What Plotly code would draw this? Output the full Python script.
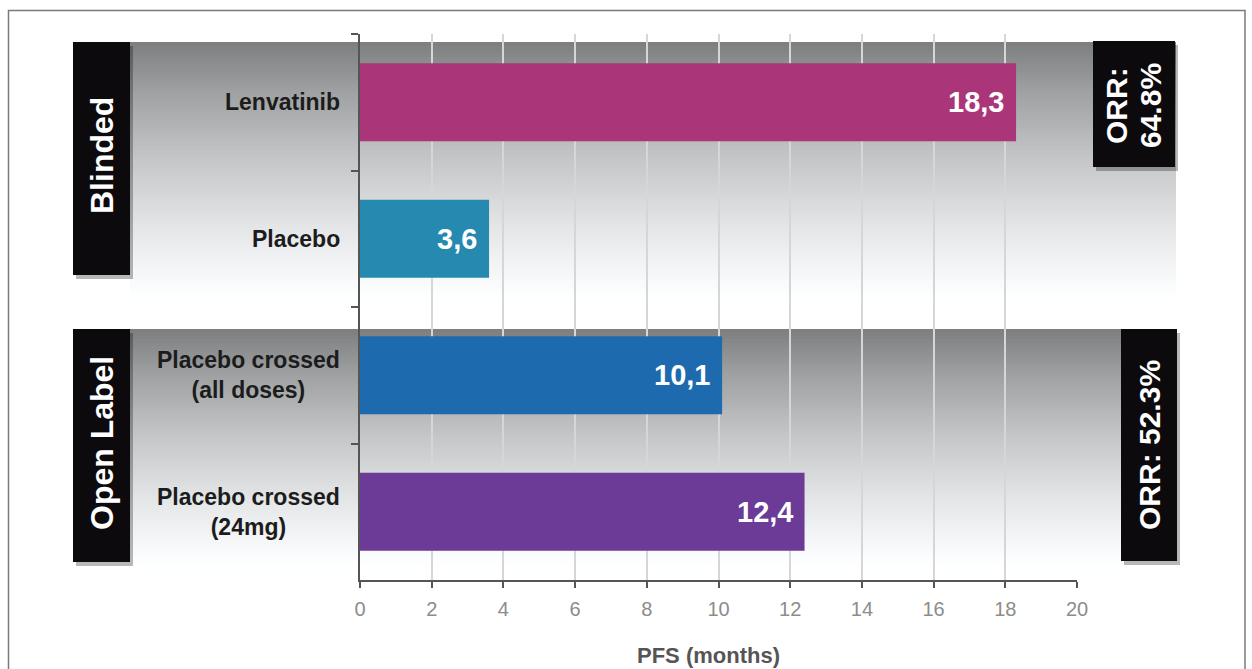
import plotly.graph_objects as go

# ---- data -------------------------------------------------------------
categories = [
    "Lenvatinib",
    "Placebo",
    "Placebo crossed (all doses)",
    "Placebo crossed (24mg)",
]
category_labels = [
    "Lenvatinib",
    "Placebo",
    "Placebo crossed<br>(all doses)",
    "Placebo crossed<br>(24mg)",
]
pfs_months = [18.3, 3.6, 10.1, 12.4]
bar_colors = ["#AA3679", "#2589B0", "#1E6AAF", "#6B3B97"]

group_names = ["Blinded", "Open Label"]
orr_blinded = ["ORR:", "64.8%"]
orr_open = "ORR: 52.3%"

x_ticks = list(range(0, 21, 2))
x_title = "PFS (months)"

# ---- page geometry (pixels) -------------------------------------------
W, H = 1252, 669
L, R, T, B = 360, 175, 34, 89
PW, PH = W - L - R, H - T - B


def px(xp):
    return (xp - L) / PW


def py(yp):
    return (H - B - yp) / PH


FONT = "Arial, Liberation Sans, Helvetica, sans-serif"

fig = go.Figure()

fig.add_trace(go.Bar(
    x=pfs_months,
    y=categories,
    orientation="h",
    width=0.57,
    marker=dict(color=bar_colors, line=dict(width=0)),
    hoverinfo="x+y",
))

shapes = []
annotations = []


def grey_at(t):
    stops = [(0.0, 124), (0.2, 160), (0.45, 196), (0.7, 226), (0.88, 244), (1.0, 255)]
    for (t0, c0), (t1, c1) in zip(stops, stops[1:]):
        if t <= t1:
            f = (t - t0) / (t1 - t0)
            return c0 + (c1 - c0) * f
    return 255


def gradient_band(x0, x1, y0, y1, n=70):
    h = (y1 - y0) / n
    for i in range(n):
        g = grey_at((i + 0.5) / n)
        r = int(round(g))
        gg = int(round(min(255, g + 2)))
        b = int(round(min(255, g + 3)))
        shapes.append(dict(
            type="rect", xref="paper", yref="paper", layer="below",
            x0=px(x0), x1=px(x1),
            y0=py(y0 + i * h), y1=py(min(y1, y0 + (i + 1) * h + 1)),
            fillcolor=f"rgb({r},{gg},{b})", line=dict(width=0),
        ))


def black_box(x0, x1, y0, y1):
    shapes.append(dict(
        type="rect", xref="paper", yref="paper", layer="above",
        x0=px(x0 + 3), x1=px(x1 + 3), y0=py(y0 + 4), y1=py(y1 + 4),
        fillcolor="rgba(0,0,0,0.28)", line=dict(width=0),
    ))
    shapes.append(dict(
        type="rect", xref="paper", yref="paper", layer="above",
        x0=px(x0), x1=px(x1), y0=py(y0), y1=py(y1),
        fillcolor="#0c0a0d", line=dict(width=0),
    ))


def rotated_label(text, xc, yc, size):
    annotations.append(dict(
        xref="paper", yref="paper", x=px(xc), y=py(yc),
        text=f"<b>{text}</b>", showarrow=False, textangle=-90,
        xanchor="center", yanchor="middle",
        font=dict(family=FONT, size=size, color="white"),
    ))


# shaded section bands
gradient_band(130, 1176, 42, 302)
gradient_band(130, 1177, 329, 568)

# section labels on the left
black_box(73, 130, 42, 275)
black_box(73, 130, 329, 562)
# response-rate boxes on the right
black_box(1093, 1175, 41, 167)
black_box(1121, 1177, 329, 561)

for name, yc in zip(group_names, [156, 443]):
    rotated_label(name, 102, yc, 32)

rotated_label(orr_blinded[0], 1117, 106, 30)
rotated_label(orr_blinded[1], 1151, 106, 30)
rotated_label(orr_open, 1149, 445, 30)

# category labels, centred lines, right edge near the axis
for cat, lab in zip(categories, category_labels):
    annotations.append(dict(
        xref="paper", yref="y", x=px(342), y=cat,
        text=f"<b>{lab}</b>", showarrow=False, align="center",
        xanchor="right", yanchor="middle",
        font=dict(family=FONT, size=23, color="#1c1c1c"),
    ))

# value labels inside the bar ends
for cat, v in zip(categories, pfs_months):
    annotations.append(dict(
        xref="x", yref="y", x=v, y=cat, xshift=-10,
        text=f"<b>{v:.1f}</b>".replace(".", ","), showarrow=False,
        xanchor="right", yanchor="middle",
        font=dict(family=FONT, size=29, color="white"),
    ))

# axis title
annotations.append(dict(
    xref="paper", yref="paper", x=px(708), y=py(655),
    text=f"<b>{x_title}</b>", showarrow=False,
    xanchor="center", yanchor="middle",
    font=dict(family=FONT, size=22, color="#555555"),
))

# outer frame
shapes.append(dict(
    type="rect", xref="paper", yref="paper", layer="above",
    x0=px(8.5), x1=px(1245), y0=py(10.5), y1=py(700),
    fillcolor="rgba(0,0,0,0)", line=dict(color="#7a7a7a", width=1.5),
))

fig.update_layout(
    width=W, height=H,
    margin=dict(l=L, r=R, t=T, b=B, pad=0),
    paper_bgcolor="white",
    plot_bgcolor="rgba(0,0,0,0)",
    showlegend=False,
    shapes=shapes,
    annotations=annotations,
    font=dict(family=FONT),
    xaxis=dict(
        range=[0, 20],
        tickvals=x_ticks,
        ticks="outside", ticklen=6, tickwidth=1.5, tickcolor="#555555",
        showline=True, linecolor="#555555", linewidth=1.5,
        showgrid=True, gridcolor="#d6d6d6", gridwidth=1.5,
        zeroline=False,
        tickfont=dict(family=FONT, size=20, color="#8c8c8c"),
        ticklabelstandoff=4,
        fixedrange=True,
    ),
    yaxis=dict(
        type="category",
        categoryorder="array", categoryarray=categories,
        range=[3.5, -0.5],
        tickson="boundaries",
        ticks="outside", ticklen=7, tickwidth=1.5, tickcolor="#555555",
        showline=True, linecolor="#555555", linewidth=1.5,
        showgrid=False, zeroline=False,
        showticklabels=False,
        fixedrange=True,
    ),
)

fig.write_html("out.html")
